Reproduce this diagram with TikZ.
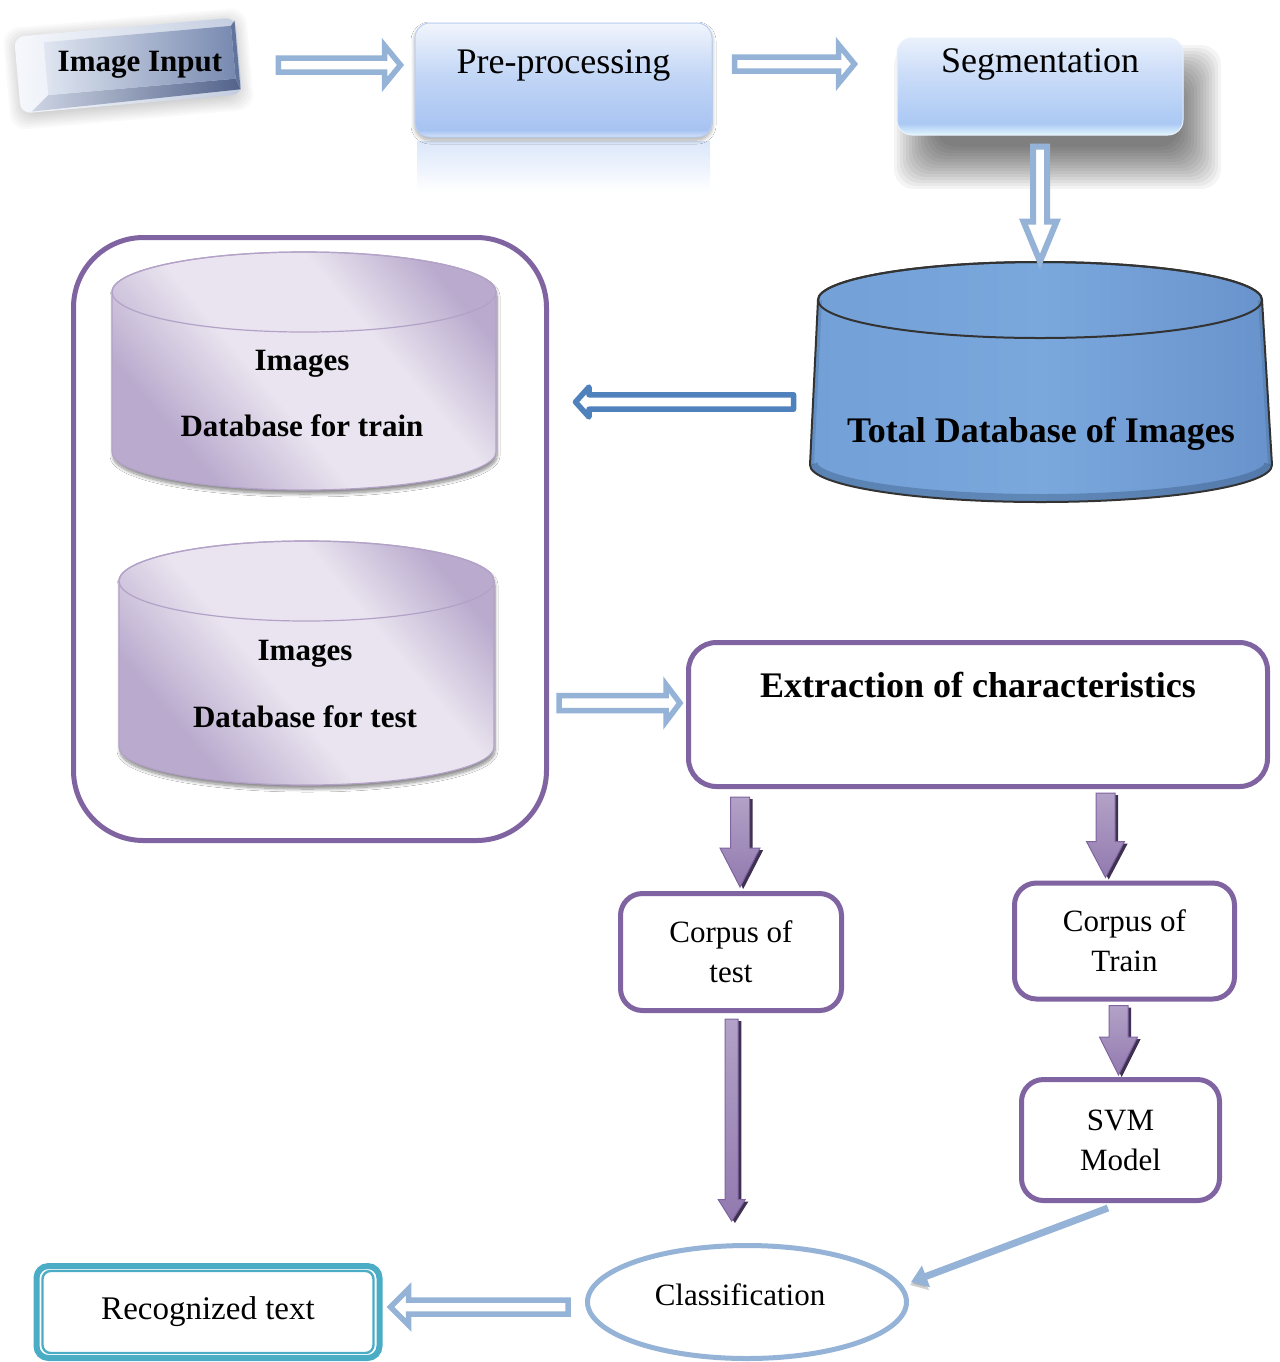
\documentclass[tikz,border=0pt]{standalone}
\usepackage{fontspec}
\setmainfont{Liberation Serif}
\usetikzlibrary{calc,arrows.meta,shapes.geometric,shadows.blur}

\definecolor{violetline}{HTML}{8064A2}
\definecolor{violetlight}{HTML}{B3A2C7}
\definecolor{violetdeep}{HTML}{3F3151}
\definecolor{skyline}{HTML}{95B3D7}
\definecolor{steelline}{HTML}{4F81BD}
\definecolor{tealline}{HTML}{4BACC6}
\definecolor{cylDark}{HTML}{BAABCE}
\definecolor{cylLight}{HTML}{E9E4EF}
\definecolor{preB}{HTML}{D3E3F9}
\definecolor{preM}{HTML}{A7C3F1}
\definecolor{preC}{HTML}{C2D6F6}
\definecolor{preT}{HTML}{F1F5FC}
\definecolor{segB}{HTML}{E2F6FD}
\definecolor{segM}{HTML}{ABC9F4}
\definecolor{segC}{HTML}{C9DBF8}
\definecolor{segT}{HTML}{EAF1FC}
\definecolor{dbFill}{HTML}{72A0D7}
\definecolor{dbLight}{HTML}{7AA8DD}
\definecolor{dbDark}{HTML}{6892CB}
\definecolor{keyRimL}{HTML}{F6F8FC}
\definecolor{keyRimR}{HTML}{C3CDE0}
\definecolor{keyFaceL}{HTML}{E0E6F1}
\definecolor{keyFaceR}{HTML}{7789B0}
\definecolor{keyLowL}{HTML}{CDD4E3}
\definecolor{keyLowR}{HTML}{52628A}
\definecolor{keySide}{HTML}{63749B}

\pgfdeclarehorizontalshading{cylband}{100bp}{color(0bp)=(cylDark); color(28bp)=(cylDark); color(44bp)=(cylLight); color(62bp)=(cylLight); color(76bp)=(cylDark); color(100bp)=(cylDark)}
\pgfdeclareverticalshading{preshade}{100bp}{color(0bp)=(preB); color(25bp)=(preB); color(28bp)=(preM); color(52bp)=(preC); color(75bp)=(preT); color(100bp)=(preT)}
\pgfdeclareverticalshading{segshade}{100bp}{color(0bp)=(segB); color(25bp)=(segB); color(31bp)=(segM); color(55bp)=(segC); color(75bp)=(segT); color(100bp)=(segT)}

\newcommand\fbig{\fontsize{18pt}{21pt}\selectfont}
\newcommand\fmid{\fontsize{15.5pt}{20pt}\selectfont}
\newcommand\frec{\fontsize{16.5pt}{20pt}\selectfont}

\begin{document}
\begin{tikzpicture}[x=0.5pt,y=-0.5pt,
  % block arrow built along the segment start -> target:
  % #1 shaft half width, #2 head half width, #3 head length
  blockarrow/.style n args={3}{to path={
    let \p1=(\tikztostart), \p2=(\tikztotarget),
        \n1={atan2(\y2-\y1,\x2-\x1)} in
    ($(\p1)+(\n1+90:#1)$)
    -- ($(\p2)+(\n1+180:#3)+(\n1+90:#1)$)
    -- ($(\p2)+(\n1+180:#3)+(\n1+90:#2)$)
    -- (\p2)
    -- ($(\p2)+(\n1+180:#3)+(\n1-90:#2)$)
    -- ($(\p2)+(\n1+180:#3)+(\n1-90:#1)$)
    -- ($(\p1)+(\n1-90:#1)$) -- cycle}},
  hollow/.style={draw=skyline, line width=2.75pt, fill=white, line join=miter},
  hollowdark/.style={draw=steelline, line width=2.75pt, fill=white, line join=round},
  violetarrow/.style={draw=violetline, line width=0.5pt, line join=miter,
    top color=violetlight, middle color=violetline, bottom color=violetline!65!violetlight,
    preaction={fill=violetdeep, transform canvas={shift={(1.6pt,-1pt)}}}},
  vbox/.style={draw=violetline, line width=2.5pt, rounded corners=11pt, fill=white,
    align=center, font=\fmid, inner sep=0pt},
  glossy/.style={shade, line width=0.5pt, rounded corners=7.5pt, font=\fbig, inner sep=0pt,
    text height=14pt},
  boldtext/.style={font=\fmid\bfseries, anchor=base},
]
\fill[white] (0,0) rectangle (1280,1362);
\useasboundingbox (0,0) rectangle (1280,1362);

% ---------- Image Input key ----------
\begin{scope}[shift={(128,65)}, rotate=5]
  % soft halo built from stacked translucent layers
  \foreach \i in {0,...,10}
    \fill[black, opacity=0.022, rounded corners=8pt]
      (-111-2.2*\i+11,-36-2.2*\i+11) rectangle (111+2.2*\i-11,44+2.2*\i-11);
  \path[left color=keyRimL, right color=keyRimR, rounded corners=5pt]
        (-111,-38) rectangle (111,39);
  \path[left color=keyLowL, right color=keyLowR]
        (-82,23) -- (106,23) -- (110,34) -- (-100,38) -- cycle;
  \fill[keySide] (106,-30) -- (110,-35) -- (110,34) -- (106,23) -- cycle;
  \path[left color=keyFaceL, right color=keyFaceR] (-82,-30) rectangle (106,23);
\end{scope}
\node[minimum width=111pt, minimum height=39pt, inner sep=0pt, font=\fmid\bfseries] (img) at (140,65) {Image Input};

% ---------- Pre-processing ----------
\path[top color=preC!60!white, bottom color=white] (417,141) rectangle (710,192);
\node[glossy, shading=preshade, draw=preM!80!white, text depth=21pt,
      minimum width=148.5pt, minimum height=57pt,
      blur shadow={shadow xshift=0pt, shadow yshift=-1.5pt, shadow blur radius=2pt,
        shadow opacity=35, shadow blur steps=12}]
      (pre) at (563.5,80) {Pre-processing};

% ---------- Segmentation ----------
% soft cast shadow under the box
\foreach \i in {0,...,14}
  \fill[black, opacity=0.042, rounded corners=10pt]
    (915-3*\i+21,66-3*\i+21) rectangle (1200+3*\i-21,168+3*\i-21);
\node[glossy, shading=segshade, draw=segT, text depth=28.5pt,
      minimum width=143pt, minimum height=48.5pt]
      (seg) at (1040,86.5) {Segmentation};

% ---------- Total database (tapered drum) ----------
\node[minimum width=222pt, minimum height=120pt, inner sep=0pt] (tdb) at (1040,382) {};
\path[left color=dbFill, right color=dbDark, middle color=dbLight]
  (818,300) -- (810,465) arc[start angle=180,end angle=360,x radius=115.5pt,y radius=18.5pt]
  -- (1262,300) arc[start angle=0,end angle=180,x radius=111pt,y radius=19pt] -- cycle;
\begin{scope}
  \clip (818,300) -- (810,465) arc[start angle=180,end angle=360,x radius=115.5pt,y radius=18.5pt]
    -- (1262,300) arc[start angle=0,end angle=180,x radius=111pt,y radius=19pt] -- cycle;
  \draw[line width=8pt, color=steelline!60!black, opacity=.35]
    (810,465) arc[start angle=180,end angle=360,x radius=115.5pt,y radius=18.5pt];
  \draw[line width=4pt, color=steelline!60!black, opacity=.2] (818,300) -- (810,465);
  \draw[line width=4pt, color=steelline!60!black, opacity=.2] (1262,300) -- (1272,465);
\end{scope}
\draw[black!80, line width=1pt]
  (818,300) -- (810,465) arc[start angle=180,end angle=360,x radius=115.5pt,y radius=18.5pt]
  -- (1262,300) arc[start angle=0,end angle=180,x radius=111pt,y radius=19pt] -- cycle;
\draw[black!80, line width=1pt] (1040,300) ellipse[x radius=111pt, y radius=19pt];
\node[font=\fbig\bfseries, anchor=base] (tdbtext) at (1041,442) {Total Database of Images};

% ---------- Train / test stores ----------
\node[draw=violetline, line width=2.5pt, rounded corners=35pt,
      minimum width=236.5pt, minimum height=301.5pt, inner sep=0pt] (dbs) at (310,539) {};

\path[shade, shading=cylband, shading angle=40, draw=violetlight, line width=0.6pt,
  blur shadow={shadow xshift=0.5pt, shadow yshift=-2pt, shadow blur radius=1.5pt,
    shadow opacity=45, shadow blur steps=10}]
  (112,292) -- (112,452) arc[start angle=180,end angle=360,x radius=96pt,y radius=19pt]
  -- (496,292) arc[start angle=0,end angle=180,x radius=96pt,y radius=20pt] -- cycle;
\draw[violetlight, line width=0.6pt] (304,292) ellipse[x radius=96pt, y radius=20pt];
\node[boldtext] (trainA) at (302,370) {Images};
\node[boldtext] (trainB) at (302,436) {Database for train};

\path[shade, shading=cylband, shading angle=40, draw=violetlight, line width=0.6pt,
  blur shadow={shadow xshift=0.5pt, shadow yshift=-2pt, shadow blur radius=1.5pt,
    shadow opacity=45, shadow blur steps=10}]
  (119,581) -- (119,747) arc[start angle=180,end angle=360,x radius=93.75pt,y radius=19pt]
  -- (494,581) arc[start angle=0,end angle=180,x radius=93.75pt,y radius=20pt] -- cycle;
\draw[violetlight, line width=0.6pt] (306.5,581) ellipse[x radius=93.75pt, y radius=20pt];
\node[boldtext] (testA) at (305,660) {Images};
\node[boldtext] (testB) at (305,727) {Database for test};

% ---------- Feature extraction and corpora ----------
\node[draw=violetline, line width=2.5pt, rounded corners=14pt, fill=white,
      minimum width=289.5pt, minimum height=72pt, inner sep=0pt,
      font=\fbig\bfseries, text height=14pt, text depth=31.5pt] (ext) at (978,714.5)
      {Extraction of characteristics};
\node[vbox, minimum width=110.5pt, minimum height=58.5pt] (ct) at (731,952) {Corpus of\\test};
\node[vbox, minimum width=110pt, minimum height=58pt] (crt) at (1124.5,941) {Corpus of\\Train};
\node[vbox, minimum width=99pt, minimum height=60.5pt] (svm) at (1120.5,1140) {SVM\\Model};

% ---------- Classification and output ----------
\node[ellipse, draw=skyline, line width=2.5pt, fill=white, minimum width=159.5pt,
      minimum height=56.5pt, inner sep=0pt, font=\fmid, text height=10.5pt, text depth=7.5pt]
      (cls) at (747,1302) {\hspace*{-7pt}Classification};
\node[draw=tealline, line width=3pt, rounded corners=6pt, fill=white,
      minimum width=171.5pt, minimum height=46pt, inner sep=0pt, font=\frec] (rt) at (208,1312)
      {Recognized text};
\draw[tealline, line width=1.2pt, rounded corners=4pt]
  ([shift={(4.5pt,-4pt)}]rt.north west) rectangle ([shift={(-4.5pt,4pt)}]rt.south east);

% ---------- Connectors ----------
\draw[hollow] ([xshift=13.5pt]img.east) to[blockarrow={3.5pt}{9.75pt}{8pt}] ([xshift=-7pt,yshift=7.5pt]pre.west);
\draw[hollow] ([xshift=11pt,yshift=8pt]pre.east) to[blockarrow={3.5pt}{9.75pt}{8pt}] ([xshift=-21pt,yshift=11.25pt]seg.west);
\draw[hollow, line width=3pt] ([yshift=-5.5pt]seg.south) to[blockarrow={3.5pt}{8.25pt}{20pt}] (tdb.north);
\draw[hollowdark] ([xshift=-12pt,yshift=-10pt]tdb.west) to[blockarrow={3.6pt}{7.5pt}{6.75pt}] ([xshift=13.25pt,yshift=68.5pt]dbs.east);
\draw[hollow] ([xshift=5pt,yshift=-82pt]dbs.east) to[blockarrow={3.75pt}{9.25pt}{7pt}] ([xshift=-3pt,yshift=5.75pt]ext.west);

\path[violetarrow] ([xshift=-119pt,yshift=-4pt]ext.south) to[blockarrow={4.75pt}{10pt}{19.5pt}] ([xshift=4.5pt,yshift=2pt]ct.north);
\path[violetarrow] ([xshift=63.75pt,yshift=-2pt]ext.south) to[blockarrow={4.75pt}{9.5pt}{18pt}] ([xshift=-9.5pt,yshift=1.5pt]crt.north);
\path[violetarrow] ([xshift=0.35pt,yshift=-3pt]ct.south) to[blockarrow={3.25pt}{6.75pt}{10.75pt}] ([xshift=-7.65pt,yshift=11pt]cls.north);
\path[violetarrow] ([xshift=-3pt,yshift=-2pt]crt.south) to[blockarrow={4.75pt}{9.5pt}{19pt}] ([xshift=-1pt,yshift=1pt]svm.north);

\draw[skyline, line width=3.5pt, -{Triangle[length=8pt,width=11pt]},
  preaction={draw=black!40, opacity=.45, transform canvas={shift={(-0.5pt,-1.5pt)}}}]
  ([xshift=-6.25pt,yshift=-2.5pt]svm.south) -- ([xshift=1pt,yshift=10pt]cls.east);

\draw[hollow] ([xshift=-8.5pt,yshift=-2.5pt]cls.west) to[blockarrow={3.5pt}{9pt}{9pt}] ([xshift=4pt,yshift=2.5pt]rt.east);
\end{tikzpicture}
\end{document}
